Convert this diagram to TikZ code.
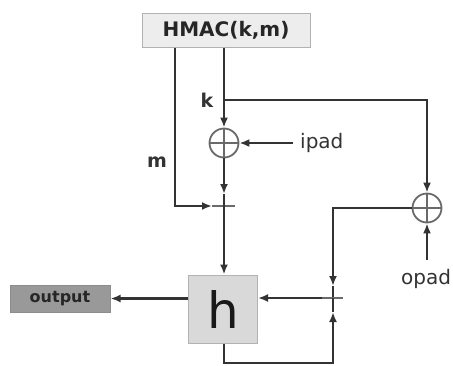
\documentclass[tikz,border=0pt]{standalone}
\usepackage{fontspec}
\setmainfont{DejaVu Sans}
\usetikzlibrary{arrows.meta,calc}
\definecolor{ln}{HTML}{333333}
\definecolor{xr}{HTML}{6A6A6A}
\begin{document}
\begin{tikzpicture}[x=1pt,y=-1pt,
  conn/.style={draw=ln,line width=2.2pt},
  arr/.style={conn,-{Latex[length=10pt,width=8pt]}},
  tickbar/.style={draw=xr,line width=1.4pt},
  xorop/.style={circle,draw=xr,line width=1.8pt,minimum size=29pt,inner sep=0pt,
    path picture={\draw[xr,line width=1.4pt] (path picture bounding box.north) -- (path picture bounding box.south)
      (path picture bounding box.west) -- (path picture bounding box.east);}},
  lbl/.style={inner sep=0pt,font=\fontsize{20}{24}\selectfont,text=ln},
  blbl/.style={lbl,font=\fontsize{19}{23}\selectfont\bfseries}]
\useasboundingbox (0,0) rectangle (453,365);
% nodes
\node[draw=black!30,fill=black!7,line width=1pt,minimum width=168pt,minimum height=34pt,inner sep=0pt,
  font=\fontsize{20}{24}\selectfont\bfseries,text=black!85] (hmac) at (226,30) {HMAC(k,m)};
\node[xorop] (ipadx) at (224,143) {};
\node[xorop] (opadx) at (427,208) {};
\node[draw=black!30,fill=black!15,line width=1pt,minimum width=69pt,minimum height=68pt,inner sep=0pt,
  font=\fontsize{50}{56}\selectfont,text=black!90] (h) at (223,309) {h};
\node[draw=black!45,fill=black!40,line width=1pt,minimum width=100pt,minimum height=27pt,inner sep=0pt,
  font=\fontsize{16}{18}\selectfont\bfseries,text=black!85] (out) at (60,298.5) {output};
\node[lbl,anchor=west] (ipadl) at (300,143) {ipad};
\node[lbl] (opadl) at (426,279) {opad};
\node[blbl] (kl) at (207,100) {k};
\node[blbl] (ml) at (157,162) {m};
% coordinates
\coordinate (ksplit) at (224,100);
\coordinate (mcorner) at (175,206);
\coordinate (j1) at (224,206);
\coordinate (a1) at (224,194);
\coordinate (mtip) at (212,206);
\coordinate (ocorner) at (333,208);
\coordinate (j2) at (333,298);
\coordinate (a2) at (333,286);
\coordinate (a3) at (333,312);
\coordinate (bl) at (224,363);
\coordinate (br) at (333,363);
\coordinate (opads) at (427,260);
\coordinate (ipads) at (293,143);
% connectors
\draw[arr] (ksplit |- hmac.south) -- (ipadx.north);
\draw[arr] (ksplit) -- (ksplit -| opadx) -- (opadx.north);
\draw[arr] (ipads) -- (ipadx.east);
\draw[arr] (opads) -- (opadx.south);
\draw[arr] (mcorner |- hmac.south) -- (mcorner) -- (mtip);
\draw[tickbar] (mtip) -- ($(j1)+(11,0)$);
\draw[arr] (ipadx.south) -- (a1);
\draw[arr] (a1) -- (a1 |- h.north);
\draw[arr] (opadx.west) -- (ocorner) -- (a2);
\draw[conn] (a2) -- (j2);
\draw[tickbar] ($(j2)+(-11,0)$) -- ($(j2)+(10,0)$);
\draw[arr] ($(j2)+(-11,0)$) -- (h.east |- j2);
\draw[arr] (bl |- h.south) -- (bl) -- (br) -- (a3);
\draw[conn] (a3) -- (j2);
\draw[arr] (h.west |- out.east) -- (out.east);
\end{tikzpicture}
\end{document}
